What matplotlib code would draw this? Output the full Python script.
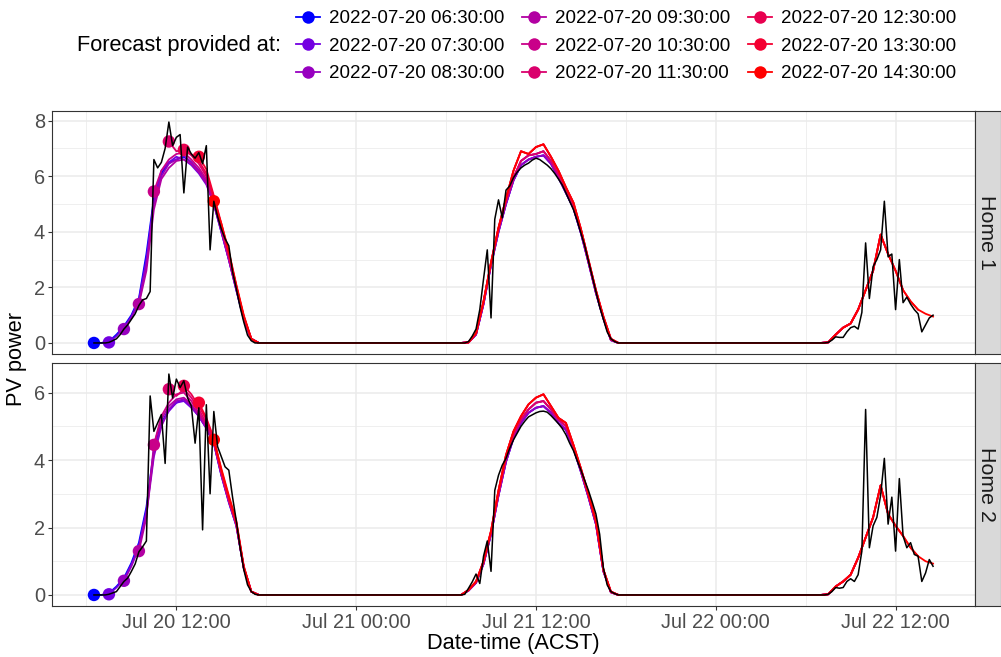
import numpy as np
import pandas as pd
import matplotlib
matplotlib.use('Agg')
import matplotlib.pyplot as plt
import matplotlib.dates as mdates
from matplotlib.lines import Line2D
from matplotlib.ticker import MultipleLocator

plt.rcParams['font.family'] = ['Liberation Sans', 'DejaVu Sans']

# forecast runs and their colours (blue -> red)
issue_times = ['2022-07-20 06:30:00', '2022-07-20 07:30:00', '2022-07-20 08:30:00',
               '2022-07-20 09:30:00', '2022-07-20 10:30:00', '2022-07-20 11:30:00',
               '2022-07-20 12:30:00', '2022-07-20 13:30:00', '2022-07-20 14:30:00']
fc_colours = ['#0000FF', '#7300E1', '#9700C0', '#B200A2', '#C90089',
              '#DA006C', '#E8004F', '#F40031', '#FF0000']
homes = ['Home 1', 'Home 2']

# measured PV power, 15 min readings over daylight (night readings are 0)
h1_obs_day1 = [0, 0, 0, 0, 0.02, 0.08, 0.15, 0.3, 0.5, 0.65, 0.85, 1.05, 1.35, 1.55, 1.6, 1.85,
               6.6, 6.3, 6.5, 7.0, 7.95, 7.1, 7.4, 7.5, 5.4, 7.05, 6.8, 6.65, 6.85, 6.45, 7.1, 3.35,
               5.1, 4.55, 4.1, 3.75, 3.5, 2.56, 1.95, 1.3, 0.75, 0.28, 0.08, 0, 0]
h1_obs_day2 = [0, 0, 0.05, 0.25, 0.5, 1.2, 2.3, 3.35, 0.9, 4.45, 5.15, 4.5, 5.5, 5.65, 5.95, 6.15,
               6.3, 6.4, 6.47, 6.58, 6.65, 6.6, 6.5, 6.4, 6.27, 6.1, 5.9, 5.69, 5.4, 5.1, 4.8, 4.4,
               3.95, 3.5, 2.95, 2.4, 1.85, 1.3, 0.85, 0.4, 0.15, 0.05, 0]
h1_obs_day3 = [0, 0, 0.02, 0.1, 0.22, 0.2, 0.2, 0.4, 0.55, 0.6, 0.5, 1.1, 3.6, 1.6, 2.75, 3.0,
               3.35, 5.1, 3.1, 3.2, 1.2, 3.0, 1.45, 1.65, 1.4, 1.2, 1.05, 0.4, 0.65, 0.9, 1.0]

h2_obs_day1 = [0, 0, 0, 0, 0.02, 0.06, 0.1, 0.25, 0.4, 0.5, 0.7, 0.92, 1.28, 1.43, 1.6, 5.9,
               4.85, 5.1, 5.35, 3.9, 6.55, 5.84, 6.4, 6.15, 6.35, 5.84, 5.6, 4.5, 5.55, 1.93, 5.64, 3.0,
               5.44, 4.4, 4.1, 3.8, 3.7, 2.9, 2.2, 1.4, 0.75, 0.3, 0.1, 0.02, 0]
h2_obs_day2 = [0, 0.02, 0.2, 0.39, 0.62, 0.34, 1.15, 1.6, 0.7, 3.1, 3.55, 3.85, 4.05, 4.35, 4.6, 4.8,
               5.0, 5.15, 5.28, 5.34, 5.4, 5.44, 5.45, 5.42, 5.32, 5.2, 5.08, 4.94, 4.75, 4.5, 4.28, 3.98,
               3.7, 3.4, 3.1, 2.76, 2.4, 1.8, 0.8, 0.3, 0.1, 0.04, 0]
h2_obs_day3 = [0, 0, 0.02, 0.1, 0.22, 0.2, 0.22, 0.4, 0.48, 0.4, 0.6, 1.3, 5.5, 1.4, 2.05, 2.3,
               2.95, 4.05, 2.1, 2.9, 1.3, 3.45, 1.75, 1.4, 1.55, 1.2, 1.15, 0.4, 0.65, 1.05, 0.85]

# forecasts, 30 min steps: Jul 20 from issue time to 17:30
h1_fc_day1 = [
    [0, 0, 0.05, 0.3, 0.6, 1.0, 1.6, 3.2, 5.2, 6.1, 6.5, 6.6, 6.7, 6.5, 6.2, 5.8, 5.0, 4.0, 3.0, 1.9, 0.85, 0.15, 0],
    [0.02, 0.25, 0.55, 0.95, 1.55, 3.0, 5.1, 6.2, 6.5, 6.7, 6.6, 6.4, 6.1, 5.7, 5.0, 4.0, 3.0, 1.9, 0.85, 0.12, 0],
    [0.5, 0.9, 1.45, 2.8, 5.0, 6.0, 6.45, 6.6, 6.75, 6.5, 6.2, 5.8, 5.1, 4.1, 3.05, 1.95, 0.9, 0.15, 0],
    [1.4, 2.6, 4.8, 5.9, 6.3, 6.55, 6.6, 6.45, 6.15, 5.75, 5.0, 4.05, 3.0, 1.95, 0.9, 0.1, 0],
    [5.45, 6.2, 6.6, 6.8, 6.85, 6.6, 6.3, 5.9, 5.15, 4.15, 3.1, 2.0, 0.9, 0.15, 0],
    [7.25, 6.9, 6.95, 6.75, 6.45, 6.0, 5.2, 4.2, 3.15, 2.0, 0.9, 0.15, 0],
    [6.95, 6.8, 6.55, 6.1, 5.25, 4.25, 3.2, 2.05, 0.95, 0.15, 0],
    [6.7, 6.25, 5.3, 4.3, 3.25, 2.05, 0.95, 0.15, 0],
    [5.1, 4.3, 3.3, 2.1, 1.0, 0.15, 0],
]
h2_fc_day1 = [
    [0, 0, 0.05, 0.25, 0.5, 0.95, 1.55, 2.6, 4.3, 5.1, 5.5, 5.7, 5.8, 5.6, 5.3, 4.95, 4.5, 3.55, 2.75, 2.05, 0.8, 0.1, 0],
    [0.02, 0.22, 0.45, 0.9, 1.45, 2.5, 4.2, 5.05, 5.45, 5.7, 5.75, 5.55, 5.3, 4.95, 4.5, 3.55, 2.75, 2.05, 0.8, 0.1, 0],
    [0.42, 0.85, 1.4, 2.4, 4.1, 5.0, 5.5, 5.75, 5.8, 5.6, 5.3, 4.95, 4.5, 3.6, 2.8, 2.1, 0.8, 0.1, 0],
    [1.3, 2.3, 4.45, 5.2, 5.6, 5.8, 5.85, 5.65, 5.35, 5.0, 4.55, 3.6, 2.8, 2.1, 0.8, 0.1, 0],
    [4.45, 5.3, 5.7, 5.95, 6.0, 5.75, 5.4, 5.05, 4.55, 3.6, 2.8, 2.1, 0.8, 0.1, 0],
    [6.1, 5.9, 6.1, 5.85, 5.5, 5.1, 4.6, 3.65, 2.8, 2.1, 0.8, 0.1, 0],
    [6.2, 5.95, 5.6, 5.2, 4.6, 3.65, 2.85, 2.15, 0.8, 0.1, 0],
    [5.7, 5.25, 4.65, 3.7, 2.9, 2.15, 0.85, 0.1, 0],
    [4.6, 3.75, 2.95, 2.2, 0.85, 0.1, 0],
]

# Jul 21 07:00-17:30, for early / mid / late runs
h1_fc_day2_early = [0, 0.02, 0.3, 1.4, 2.8, 4.0, 5.0, 5.85, 6.4, 6.6, 6.7, 6.75, 6.45, 5.95, 5.4, 4.85, 3.95, 2.9, 1.8, 0.88, 0.1, 0]
h1_fc_day2_mid = [0, 0.02, 0.33, 1.45, 2.85, 4.1, 5.1, 5.95, 6.55, 6.75, 6.8, 6.9, 6.55, 6.05, 5.5, 4.95, 4.05, 2.95, 1.85, 0.9, 0.12, 0]
h1_fc_day2_late = [0, 0.02, 0.35, 1.5, 2.9, 4.15, 5.2, 6.2, 6.9, 6.8, 7.05, 7.15, 6.7, 6.2, 5.6, 5.05, 4.1, 3.0, 1.9, 0.95, 0.15, 0]
h2_fc_day2_early = [0, 0.13, 0.36, 0.92, 1.8, 2.95, 3.95, 4.65, 5.1, 5.4, 5.55, 5.6, 5.4, 5.1, 4.9, 4.35, 3.65, 2.9, 2.1, 0.7, 0.08, 0]
h2_fc_day2_mid = [0, 0.14, 0.38, 0.95, 1.85, 3.0, 4.05, 4.75, 5.2, 5.5, 5.7, 5.75, 5.5, 5.2, 5.0, 4.4, 3.7, 2.95, 2.15, 0.72, 0.08, 0]
h2_fc_day2_late = [0, 0.15, 0.4, 1.0, 1.9, 3.1, 4.15, 4.85, 5.3, 5.65, 5.85, 5.95, 5.6, 5.25, 5.1, 4.45, 3.75, 3.0, 2.2, 0.75, 0.1, 0]

# Jul 22 07:00-14:30
h1_fc_day3 = [0, 0.02, 0.3, 0.55, 0.7, 1.2, 1.9, 2.6, 3.9, 3.2, 2.6, 1.9, 1.5, 1.2, 1.05, 0.95]
h2_fc_day3 = [0, 0.02, 0.25, 0.4, 0.6, 1.1, 1.7, 2.3, 3.25, 2.4, 2.05, 1.75, 1.4, 1.15, 1.0, 0.93]

start, end = pd.Timestamp('2022-07-20 06:30'), pd.Timestamp('2022-07-22 14:30')
obs_index = pd.date_range(start, end, freq='15min')
fc_index = pd.date_range(start, end, freq='30min')
day2, day3 = pd.Timestamp('2022-07-21 07:00'), pd.Timestamp('2022-07-22 07:00')


def place(index, blocks):
    s = pd.Series(0.0, index=index)
    for t, vals in blocks:
        i = index.get_loc(pd.Timestamp(t))
        s.iloc[i:i + len(vals)] = vals
    return s


def forecast_run(issue, d1, d2, d3):
    t0 = pd.Timestamp(issue)
    s = place(fc_index, [(t0, d1), (day2, d2), (day3, d3)])
    s[(fc_index < t0) | (fc_index > t0 + pd.Timedelta(hours=48))] = np.nan
    return s


obs = [place(obs_index, [(start, h1_obs_day1), (day2, h1_obs_day2), (day3, h1_obs_day3)]),
       place(obs_index, [(start, h2_obs_day1), (day2, h2_obs_day2), (day3, h2_obs_day3)])]
groups = [0, 0, 0, 1, 1, 1, 2, 2, 2]
h1_day2 = [h1_fc_day2_early, h1_fc_day2_mid, h1_fc_day2_late]
h2_day2 = [h2_fc_day2_early, h2_fc_day2_mid, h2_fc_day2_late]
fcs = [[forecast_run(t, h1_fc_day1[k], h1_day2[groups[k]], h1_fc_day3) for k, t in enumerate(issue_times)],
       [forecast_run(t, h2_fc_day1[k], h2_day2[groups[k]], h2_fc_day3) for k, t in enumerate(issue_times)]]
fc_day1 = [h1_fc_day1, h2_fc_day1]

W, H = 1001, 657
fig = plt.figure(figsize=(W / 100, H / 100), dpi=100)


def px_box(x0, y0, x1, y1):
    return [x0 / W, 1 - y1 / H, (x1 - x0) / W, (y1 - y0) / H]


panels = [(111, 354), (363, 606)]
span = end - start
xlim = (start - 0.05 * span, end + 0.05 * span)
dark = '#333333'

for p, (top, bottom) in enumerate(panels):
    ax = fig.add_axes(px_box(52, top, 975, bottom))
    for k, colour in enumerate(fc_colours):
        s = fcs[p][k]
        ax.plot(s.index, s.values, color=colour, lw=1.3, zorder=2)
    for k, colour in enumerate(fc_colours):
        ax.scatter(pd.Timestamp(issue_times[k]), fc_day1[p][k][0], s=80, color=colour,
                   edgecolors='none', zorder=3)
    ax.plot(obs[p].index, obs[p].values, color='black', lw=1.1, zorder=4)

    vals = [obs[p].max()] + [s.max() for s in fcs[p]]
    lo, hi = 0.0, max(vals)
    pad = 0.05 * (hi - lo)
    ax.set_ylim(lo - pad, hi + pad)
    ax.set_xlim(xlim)

    ax.xaxis.set_major_locator(mdates.HourLocator(byhour=[0, 12]))
    ax.xaxis.set_minor_locator(mdates.HourLocator(byhour=[6, 18]))
    ax.xaxis.set_major_formatter(mdates.DateFormatter('%b %d %H:%M'))
    ax.yaxis.set_major_locator(MultipleLocator(2))
    ax.yaxis.set_minor_locator(MultipleLocator(1))
    ax.grid(which='major', color='#EBEBEB', lw=1.1)
    ax.grid(which='minor', color='#EBEBEB', lw=0.55)
    ax.set_axisbelow(True)
    for sp in ax.spines.values():
        sp.set_color(dark)
        sp.set_linewidth(0.8)
    ax.tick_params(which='major', length=2.9, width=0.8, color=dark, labelcolor='#4D4D4D',
                   labelsize=14.4, pad=2)
    ax.tick_params(which='minor', length=0)
    if p == 0:
        ax.tick_params(axis='x', which='both', length=0, labelbottom=False)

    strip = fig.add_axes(px_box(975, top, 1001, bottom))
    strip.set_facecolor('#D9D9D9')
    strip.set_xticks([])
    strip.set_yticks([])
    for sp in strip.spines.values():
        sp.set_color(dark)
        sp.set_linewidth(0.8)
    strip.text(0.45, 0.5, homes[p], rotation=-90, ha='center', va='center',
               fontsize=15.4, color='#1A1A1A', transform=strip.transAxes)

fig.text(513.5 / W, 1 - 644 / H, 'Date-time (ACST)', ha='center', va='center', fontsize=15.7)
fig.text(17 / W, 1 - 358.5 / H, 'PV power', ha='center', va='center', rotation=90, fontsize=15.7)

handles = [Line2D([], [], color=c, lw=1.3, marker='o', markersize=9, markeredgewidth=0)
           for c in fc_colours]
fig.legend(handles, issue_times, ncol=3, loc='upper left', bbox_to_anchor=(296 / W, 1 - 10 / H),
           frameon=False, fontsize=13.5, handlelength=1.3, handletextpad=0.45,
           columnspacing=0.95, labelspacing=0.56, borderpad=0, borderaxespad=0)
fig.text(281 / W, 1 - 45 / H, 'Forecast provided at:', ha='right', va='center', fontsize=15.7)

fig.savefig('out.png', dpi=100)
